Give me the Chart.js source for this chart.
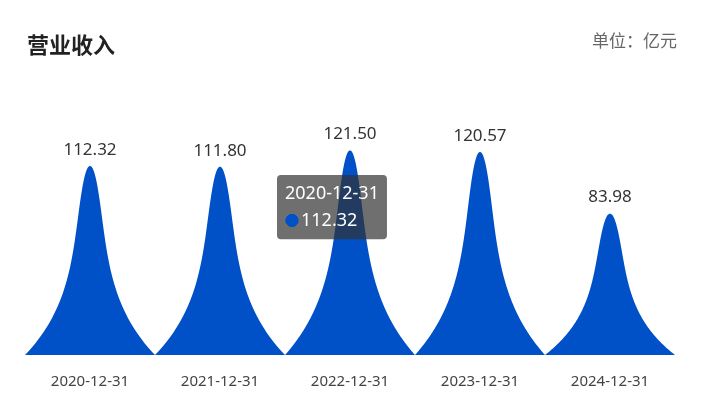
<!DOCTYPE html>
<html>
<head>
<meta charset="utf-8">
<script src="https://cdn.jsdelivr.net/npm/chart.js@4.4.1/dist/chart.umd.min.js"></script>
<style>
  html, body { margin: 0; padding: 0; background: #fff; }
  #wrap { position: relative; width: 701px; height: 415px; }
  #title { position: absolute; left: 27px; top: 32px; font: bold 22px/22px "Noto Sans CJK SC", sans-serif; color: #222; }
  #unit { position: absolute; right: 24px; top: 31px; font: 17px/17px "Noto Sans CJK SC", sans-serif; color: #666; }
  canvas { position: absolute; left: 0; top: 0; }
</style>
</head>
<body>
<div id="wrap">
  <canvas id="barChart" width="701" height="415"></canvas>
  <div id="title">营业收入</div>
  <div id="unit">单位：亿元</div>
</div>
<script>
const categories = ["2020-12-31", "2021-12-31", "2022-12-31", "2023-12-31", "2024-12-31"];
const revenue = [112.32, 111.80, 121.50, 120.57, 83.98];

const BLUE = "#0050c8";
const FONT = '"Noto Sans", "Noto Sans CJK SC", sans-serif';

// spike outline: depth d (0 = peak, 1 = base) -> half width as a fraction of bar width
const spikeHalf = (d) => 0.173 * Math.sqrt(d) + 0.327 * Math.pow(d, 4);

const spikePlugin = {
    id: "spikes",
    afterDatasetsDraw(chart) {
        const ctx = chart.ctx;
        const meta = chart.getDatasetMeta(0);
        const w = chart.scales.x.width / categories.length;
        ctx.save();
        meta.data.forEach((bar, i) => {
            const cx = bar.x, top = bar.y, base = bar.base;
            const h = base - top;
            const steps = 150;
            ctx.beginPath();
            ctx.moveTo(cx - w / 2, base);
            for (let s = steps; s >= 0; s--) {
                const d = s / steps;
                ctx.lineTo(cx - spikeHalf(d) * w, top + d * h);
            }
            for (let s = 0; s <= steps; s++) {
                const d = s / steps;
                ctx.lineTo(cx + spikeHalf(d) * w, top + d * h);
            }
            ctx.closePath();
            ctx.fillStyle = BLUE;
            ctx.fill();

            ctx.fillStyle = "#333";
            ctx.font = "17px " + FONT;
            ctx.textAlign = "center";
            ctx.textBaseline = "alphabetic";
            ctx.fillText(revenue[i].toFixed(2), cx, top - 11);
        });
        ctx.restore();
    }
};

Chart.Tooltip.positioners.fixedPos = function () {
    return { x: 281, y: 175 };
};

const chart = new Chart(document.getElementById("barChart"), {
    type: "bar",
    data: {
        labels: categories,
        datasets: [{
            label: "营业收入",
            data: revenue,
            backgroundColor: "rgba(0,0,0,0)",
            barPercentage: 1,
            categoryPercentage: 1
        }]
    },
    plugins: [spikePlugin],
    options: {
        responsive: false,
        animation: false,
        events: [],
        layout: { padding: { left: 25, right: 26, top: 119, bottom: 6 } },
        scales: {
            x: {
                grid: { display: false, drawTicks: false },
                border: { display: false },
                ticks: {
                    padding: 18,
                    autoSkip: false,
                    maxRotation: 0,
                    color: "#444",
                    font: { family: FONT, size: 15 }
                }
            },
            y: { display: false, min: 0, max: 140 }
        },
        plugins: {
            legend: { display: false },
            tooltip: {
                position: "fixedPos",
                xAlign: "left",
                yAlign: "top",
                caretSize: 0,
                caretPadding: 0,
                cornerRadius: 4,
                backgroundColor: "rgba(50,50,50,0.7)",
                padding: { left: 8, right: 8, top: 8, bottom: 8 },
                titleFont: { family: FONT, size: 18, weight: "normal" },
                bodyFont: { family: FONT, size: 18 },
                titleColor: "#fff",
                bodyColor: "#fff",
                titleMarginBottom: 5,
                usePointStyle: true,
                boxWidth: 14,
                boxHeight: 12,
                multiKeyBackground: BLUE,
                callbacks: {
                    label: (item) => revenue[item.dataIndex].toFixed(2),
                    labelColor: () => ({ borderColor: BLUE, backgroundColor: BLUE }),
                    labelPointStyle: () => ({ pointStyle: "circle", rotation: 0 })
                }
            }
        }
    }
});

chart.tooltip.setActiveElements([{ datasetIndex: 0, index: 0 }], { x: 90, y: 200 });
chart.update();
</script>
</body>
</html>
